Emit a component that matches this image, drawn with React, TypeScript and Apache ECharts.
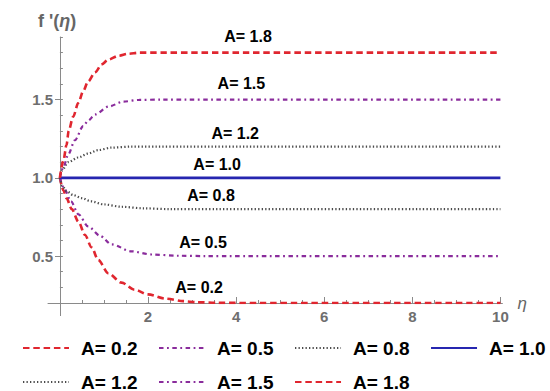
import React, { useEffect, useRef } from 'react';
import * as echarts from 'echarts';

// Curves: [eta, f'(eta)]
const curveA02: [number, number][] = [
  [0, 1], [0.08, 0.92], [0.15, 0.87], [0.27, 0.8], [0.42, 0.72], [0.57, 0.635], [0.72, 0.555],
  [0.87, 0.475], [1.1, 0.39], [1.4, 0.33], [1.7, 0.285], [2.0, 0.255], [2.4, 0.228], [2.8, 0.212],
  [3.1, 0.205], [3.6, 0.201], [4.5, 0.2], [10, 0.2],
];
const curveA05: [number, number][] = [
  [0, 1], [0.1, 0.93], [0.25, 0.85], [0.42, 0.767], [0.64, 0.69], [0.91, 0.63], [1.17, 0.575],
  [1.63, 0.53], [2.08, 0.51], [2.7, 0.502], [3.3, 0.5], [10, 0.5],
];
const curveA08: [number, number][] = [
  [0, 1], [0.05, 0.95], [0.15, 0.915], [0.3, 0.89], [0.5, 0.87], [0.7, 0.85], [1.0, 0.83],
  [1.4, 0.815], [1.9, 0.805], [2.5, 0.8], [10, 0.8],
];
const curveA10: [number, number][] = [[0, 1], [10, 1]];
const curveA12: [number, number][] = [
  [0, 1], [0.04, 1.045], [0.19, 1.1], [0.42, 1.13], [0.64, 1.155], [0.87, 1.177], [1.17, 1.193],
  [1.63, 1.2], [10, 1.2],
];
const curveA15: [number, number][] = [
  [0, 1], [0.08, 1.07], [0.19, 1.15], [0.34, 1.24], [0.53, 1.33], [0.64, 1.365], [0.8, 1.405],
  [1.1, 1.455], [1.44, 1.487], [1.8, 1.498], [2.3, 1.5], [10, 1.5],
];
const curveA18: [number, number][] = [
  [0, 1], [0.08, 1.11], [0.15, 1.21], [0.2, 1.3], [0.3, 1.39], [0.42, 1.48], [0.53, 1.555],
  [0.64, 1.615], [0.8, 1.675], [0.95, 1.725], [1.1, 1.755], [1.33, 1.78], [1.55, 1.793],
  [1.8, 1.8], [10, 1.8],
];

const seriesNames = ['A= 0.2', 'A= 0.5', 'A= 0.8', 'A= 1.0', 'A= 1.2', 'A= 1.5', 'A= 1.8'];
const legendRow1 = ['A= 0.2', 'A= 0.5', 'A= 0.8', 'A= 1.0'];
const legendRow2 = ['A= 1.2', 'A= 1.5', 'A= 1.8'];

const xMinorTicks = [0.5, 1, 1.5, 2, 2.5, 3, 3.5, 4, 4.5, 5, 5.5, 6, 6.5, 7, 7.5, 8, 8.5, 9, 9.5, 10];
const xMajorTicks = [2, 4, 6, 8, 10];
const yMinorTicks = [0.2, 0.3, 0.4, 0.5, 0.6, 0.7, 0.8, 0.9, 1.0, 1.1, 1.2, 1.3, 1.4, 1.5, 1.6, 1.7, 1.8, 1.9];
const yMajorTicks = [0.5, 1.0, 1.5];

const FONT = "'Liberation Sans', Arial, sans-serif";
const AXIS_COLOR = '#8a8a8a';
const TICK_LABEL_COLOR = '#6e6e6e';
const RED = '#e0262f';
const PURPLE = '#8a2c9c';
const GRAY = '#4a4a4a';
const BLUE = '#2626b0';

const styles = [
  { data: curveA02, color: RED, width: 2.6, dash: [6.5, 3.8], labelEta: 3.16, labelDy: -16 },
  { data: curveA05, color: PURPLE, width: 2.2, dash: [4.5, 3.5, 1.8, 3.5], labelEta: 3.25, labelDy: -14 },
  { data: curveA08, color: GRAY, width: 2.2, dash: [1.3, 2.2], labelEta: 3.43, labelDy: -14 },
  { data: curveA10, color: BLUE, width: 2.8, dash: 'solid' as any, labelEta: 3.57, labelDy: -13.5 },
  { data: curveA12, color: GRAY, width: 2.2, dash: [1.3, 2.2], labelEta: 3.98, labelDy: -13 },
  { data: curveA15, color: PURPLE, width: 2.2, dash: [4.5, 3.5, 1.8, 3.5], labelEta: 4.12, labelDy: -16.5 },
  { data: curveA18, color: RED, width: 2.6, dash: [6.5, 3.8], labelEta: 4.27, labelDy: -16 },
];

export default function App() {
  const ref = useRef<HTMLDivElement>(null);
  useEffect(() => {
    if (!ref.current) return;
    const chart = echarts.init(ref.current, undefined, { renderer: 'svg' });
    const legendBase = {
      left: 22,
      itemWidth: 46,
      itemHeight: 14,
      itemGap: 20.5,
      padding: 0,
      selectedMode: false,
      itemStyle: { opacity: 0 },
      textStyle: { fontSize: 19, fontWeight: 'bold', color: '#000', fontFamily: FONT, padding: [0, 0, 0, 7], lineHeight: 20 },
    };
    chart.setOption({
      animation: false,
      backgroundColor: '#fff',
      grid: { left: 48, right: 47.6, top: 37, bottom: 88, containLabel: false },
      xAxis: [
        {
          type: 'value', position: 'bottom', min: -0.27, max: 10.045,
          axisLine: { show: true, onZero: false, lineStyle: { color: AXIS_COLOR, width: 1 } },
          axisTick: { show: true, inside: true, length: 3, customValues: xMinorTicks, lineStyle: { color: AXIS_COLOR } },
          axisLabel: { show: false },
          splitLine: { show: false },
          name: 'η', nameLocation: 'end', nameGap: 15,
          nameTextStyle: { fontSize: 17, fontStyle: 'italic', color: '#666', fontFamily: FONT },
        },
        {
          type: 'value', position: 'bottom', min: -0.27, max: 10.045,
          axisLine: { show: false, onZero: false },
          axisTick: { show: true, inside: true, length: 6, customValues: xMajorTicks, lineStyle: { color: AXIS_COLOR } },
          axisLabel: { show: true, customValues: xMajorTicks, margin: 6, fontSize: 15, fontWeight: 'bold', color: TICK_LABEL_COLOR, fontFamily: FONT },
          splitLine: { show: false },
        },
      ],
      yAxis: [
        {
          type: 'value', position: 'left', min: 0.2, max: 1.9,
          axisLine: { show: true, onZero: true, lineStyle: { color: AXIS_COLOR, width: 1 } },
          axisTick: { show: true, inside: true, length: 3, customValues: yMinorTicks, lineStyle: { color: AXIS_COLOR } },
          axisLabel: { show: false },
          splitLine: { show: false },
        },
        {
          type: 'value', position: 'left', min: 0.2, max: 1.9, offset: -12,
          axisLine: { show: false, onZero: false },
          axisTick: { show: true, inside: false, length: 5, customValues: yMajorTicks, lineStyle: { color: AXIS_COLOR } },
          axisLabel: {
            show: true, customValues: yMajorTicks, margin: 7, fontSize: 15, fontWeight: 'bold', color: TICK_LABEL_COLOR, fontFamily: FONT,
            formatter: (v: number) => v.toFixed(1),
          },
          splitLine: { show: false },
        },
      ],
      legend: [
        { ...legendBase, top: 338, data: legendRow1 },
        { ...legendBase, top: 372, data: legendRow2 },
      ],
      graphic: [
        {
          type: 'text', left: 38, top: 12,
          style: {
            text: "{a|f '(}{b|η}{a|)}",
            rich: {
              a: { fontSize: 18, fontWeight: 'bold', fill: '#666', fontFamily: FONT },
              b: { fontSize: 18, fontWeight: 'bold', fontStyle: 'italic', fill: '#666', fontFamily: FONT },
            },
          },
        },
        {
          type: 'line', shape: { x1: 60.5, y1: 303, x2: 60.5, y2: 316 },
          style: { stroke: AXIS_COLOR, lineWidth: 1 },
        },
      ],
      series: styles.map((s, i) => ({
        name: seriesNames[i],
        type: 'line',
        xAxisIndex: 0,
        yAxisIndex: 0,
        data: s.data,
        showSymbol: false,
        symbol: 'none',
        smooth: 0.3,
        smoothMonotone: 'x',
        lineStyle: { color: s.color, width: s.width, type: s.dash, cap: 'butt' },
        itemStyle: { color: s.color },
        markPoint: {
          silent: true,
          symbol: 'circle',
          symbolSize: 1,
          itemStyle: { color: 'rgba(0,0,0,0)' },
          label: {
            show: true, position: 'inside', offset: [0, s.labelDy],
            formatter: seriesNames[i], color: '#000', fontSize: 16, fontWeight: 'bold', fontFamily: FONT,
          },
          data: [{ coord: [s.labelEta, s.data[s.data.length - 1][1]] }],
        },
      })),
    });
    return () => chart.dispose();
  }, []);
  return (
    <div
      ref={ref}
      style={{ position: 'fixed', left: 0, top: 0, width: 550, height: 391, background: '#fff' }}
    />
  );
}
